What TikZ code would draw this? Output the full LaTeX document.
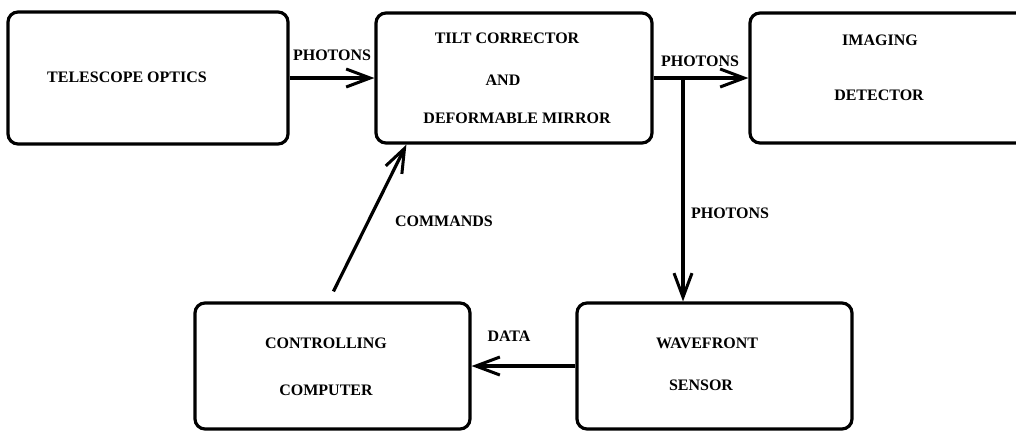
\documentclass[tikz,border=0pt]{standalone}
\usepackage{fontspec}
\setmainfont{Liberation Serif}
\usetikzlibrary{arrows.meta}
\begin{document}
\begin{tikzpicture}[x=1pt,y=-1pt,
  block/.style={draw, line width=3.2pt, rounded corners=10pt, inner sep=0pt},
  lbl/.style={inner sep=0pt, font=\fontsize{16}{18}\selectfont\bfseries},
  flow/.style={line width=3.2pt, -{Straight Barb[length=24pt,width=18pt,line width=3pt]}}]
\clip (0,0) rectangle (1016,432);
\fill[white] (0,0) rectangle (1016,432);

% blocks
\node[block, minimum width=280pt, minimum height=132pt] (b1) at (148,78) {};
\node[block, minimum width=276pt, minimum height=130pt] (b2) at (514,78) {};
\node[block, minimum width=280pt, minimum height=130pt] (b3) at (890,78) {};
\node[block, minimum width=275pt, minimum height=126pt] (b4) at (332.5,366) {};
\node[block, minimum width=275pt, minimum height=126pt] (b5) at (714.5,366) {};

% block captions
\node[lbl] (t1)  at (127,77)  {TELESCOPE OPTICS};
\node[lbl] (t2a) at (507,38)  {TILT CORRECTOR};
\node[lbl] (t2b) at (503,80)  {AND};
\node[lbl] (t2c) at (517,118) {DEFORMABLE MIRROR};
\node[lbl] (t3a) at (880,40)  {IMAGING};
\node[lbl] (t3b) at (879,95)  {DETECTOR};
\node[lbl] (t4a) at (326,343) {CONTROLLING};
\node[lbl] (t4b) at (326,390) {COMPUTER};
\node[lbl] (t5a) at (707,343) {WAVEFRONT};
\node[lbl] (t5b) at (701,385) {SENSOR};

% connectors
\draw[flow] (b1.east) -- (b2.west);
\draw[flow] (b2.east) -- (b3.west);
\coordinate (split) at (683,78);
\draw[flow] (split) -- (split |- b5.north);
\draw[flow] (b5.west) -- (b4.east);
\draw[flow] ([xshift=140pt,yshift=10pt]b4.north west) -- ([xshift=32pt]b2.south west);

% connector labels
\node[lbl] (p1) at (332,55)  {PHOTONS};
\node[lbl] (p2) at (700,61)  {PHOTONS};
\node[lbl] (p3) at (730,213) {PHOTONS};
\node[lbl] (cm) at (444,221) {COMMANDS};
\node[lbl] (dt) at (509,336) {DATA};
\end{tikzpicture}
\end{document}
